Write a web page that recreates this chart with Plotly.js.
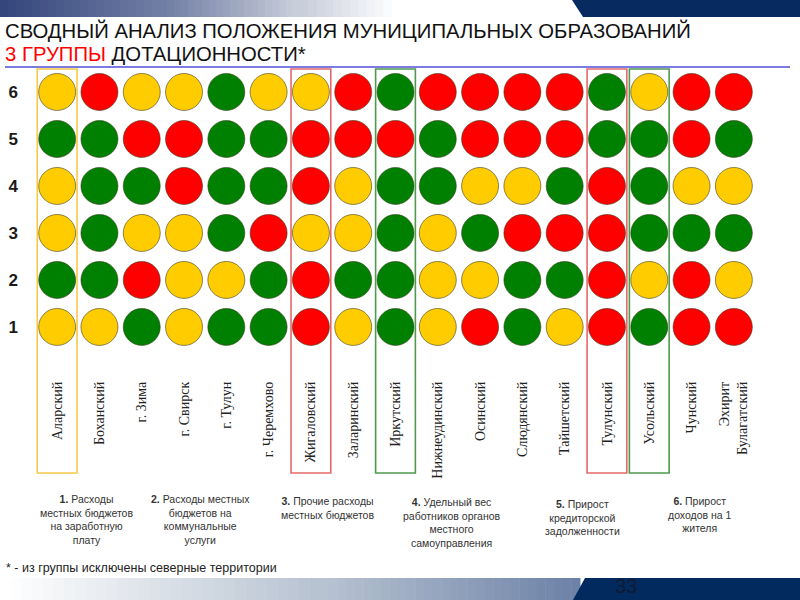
<!DOCTYPE html>
<html><head><meta charset="utf-8">
<script src="https://cdn.plot.ly/plotly-3.0.1.min.js"></script>
<style>html,body{margin:0;padding:0;background:#fff}#chart{width:800px;height:600px}</style>
</head><body><div id="chart"></div>
<script>
// ---- data ----
const categories = ['Аларский','Боханский','г. Зима','г. Свирск','г. Тулун','г. Черемхово','Жигаловский','Заларинский','Иркутский','Нижнеудинский','Осинский','Слюдянский','Тайшетский','Тулунский','Усольский','Чунский','Эхирит<br>Булагатский'];
const rowNumbers = [1,2,3,4,5,6];
// status per municipality: G = green, Y = yellow, R = red
const row1 = ['Y','Y','G','Y','G','G','R','Y','G','Y','R','G','Y','R','G','R','R'];
const row2 = ['G','G','R','Y','Y','G','R','G','G','Y','Y','G','G','R','Y','R','Y'];
const row3 = ['Y','G','Y','Y','G','R','Y','Y','G','Y','G','R','R','R','G','G','G'];
const row4 = ['Y','G','G','R','G','G','R','Y','G','G','Y','Y','G','R','G','Y','Y'];
const row5 = ['G','G','R','R','G','G','R','R','R','G','R','R','R','G','G','R','G'];
const row6 = ['Y','R','Y','Y','G','Y','Y','R','G','R','R','R','R','G','Y','R','R'];
const rows = [row1,row2,row3,row4,row5,row6];
const highlightedCols = ['Аларский','Жигаловский','Иркутский','Тулунский','Усольский'];
const highlightColors = ['#F7C948','#E46A6A','#4E9A4E','#E46A6A','#4E9A4E'];
const titleLine1 = 'СВОДНЫЙ АНАЛИЗ ПОЛОЖЕНИЯ МУНИЦИПАЛЬНЫХ ОБРАЗОВАНИЙ';
const titleLine2 = '<span style="color:#FF0000">3 ГРУППЫ</span> ДОТАЦИОННОСТИ*';
const notes = [
  '<b>1.</b> Расходы<br>местных бюджетов<br>на заработную<br>плату',
  '<b>2.</b> Расходы местных<br>бюджетов на<br>коммунальные<br>услуги',
  '<b>3.</b> Прочие расходы<br>местных бюджетов',
  '<b>4.</b> Удельный вес<br>работников органов<br>местного<br>самоуправления',
  '<b>5.</b> Прирост<br>кредиторской<br>задолженности',
  '<b>6.</b> Прирост<br>доходов на 1<br>жителя'
];
const footnote = '* - из группы исключены северные территории';
const pageNumber = '33';

// ---- styles ----
const statusColors = {G:'#008000', Y:'#FFCC00', R:'#FF0000'};
const W = 800, H = 600, ML = 36, MR = 45, MT = 68, MB = 222;
const PW = W - ML - MR, PH = H - MT - MB;
const px = v => (v - ML) / PW;
const py = v => (H - MB - v) / PH;
const SANS = 'Liberation Sans, Arial, sans-serif';

const xIdx = categories.map((c, i) => i + 1);
const traces = rows.map((r, k) => ({
  type: 'scatter', mode: 'markers',
  x: xIdx, y: r.map(() => rowNumbers[k]),
  marker: {size: 37, color: r.map(s => statusColors[s]),
           line: {color: 'rgba(50,50,20,0.55)', width: 1}},
  hoverinfo: 'skip', showlegend: false
}));

const shapes = [];
// slide decoration: header and footer bands built from thin strips
function hex2rgb(h){return [1,3,5].map(i=>parseInt(h.substr(i,2),16));}
function band(y0, y1, x0, x1, c0, c1, n){
  const a = hex2rgb(c0), b = hex2rgb(c1);
  for (let i = 0; i < n; i++){
    const t = i / (n - 1);
    const c = a.map((v, j) => Math.round(v + (b[j] - v) * t));
    const xa = x0 + (x1 - x0) * i / n, xb = x0 + (x1 - x0) * (i + 1) / n + 0.5;
    shapes.push({type:'rect', xref:'paper', yref:'paper', x0: px(xa), x1: px(xb), y0: py(y1), y1: py(y0),
      fillcolor: 'rgb(' + c.join(',') + ')', line: {width: 0}, layer: 'below'});
  }
}
band(0, 17, 0, 160, '#34467C', '#6F7CA3', 20);
band(0, 17, 160, 300, '#6F7CA3', '#C9CEDB', 20);
band(0, 17, 300, 400, '#C9CEDB', '#FFFFFF', 12);
shapes.push({type:'path', xref:'paper', yref:'paper',
  path: 'M' + px(572) + ',' + py(0) + ' L' + px(800) + ',' + py(0) + ' L' + px(800) + ',' + py(17) + ' L' + px(583) + ',' + py(17) + ' Z',
  fillcolor: '#072B60', line: {width: 0}, layer: 'below'});
band(578, 600, 0, 320, '#FFFFFF', '#B8C3D2', 30);
band(578, 600, 320, 580, '#B8C3D2', '#6C82A6', 30);
shapes.push({type:'path', xref:'paper', yref:'paper',
  path: 'M' + px(585) + ',' + py(578) + ' L' + px(800) + ',' + py(578) + ' L' + px(800) + ',' + py(600) + ' L' + px(573) + ',' + py(600) + ' Z',
  fillcolor: '#022A5E', line: {width: 0}, layer: 'below'});

highlightedCols.forEach((c, i) => {
  const xi = categories.indexOf(c) + 1;
  shapes.push({type: 'rect', xref: 'x', yref: 'paper', x0: xi - 0.47, x1: xi + 0.47,
          y0: py(473), y1: py(69), line: {color: highlightColors[i], width: 1.6},
          fillcolor: 'rgba(0,0,0,0)', layer: 'above'});
});
shapes.push({type: 'line', xref: 'paper', yref: 'paper', x0: px(5), x1: px(790),
             y0: py(67), y1: py(67), line: {color: '#7C7CE0', width: 2}});

const noteX = [86, 200, 327, 452, 582, 700];
const noteTop = [491, 491, 493, 494, 496, 493];
const annotations = notes.map((t, i) => ({
  xref: 'paper', yref: 'paper', x: px(noteX[i]), y: py(noteTop[i]),
  xanchor: 'center', yanchor: 'top', align: 'center', showarrow: false,
  text: t, font: {family: SANS, size: 10.5, color: '#333'}
}));
annotations.push({xref: 'paper', yref: 'paper', x: px(3), y: py(31), xanchor: 'left', yanchor: 'middle',
  showarrow: false, text: titleLine1, font: {family: SANS, size: 20.3, color: '#111'}});
annotations.push({xref: 'paper', yref: 'paper', x: px(3), y: py(54), xanchor: 'left', yanchor: 'middle',
  showarrow: false, text: titleLine2, font: {family: SANS, size: 20.3, color: '#111'}});
annotations.push({xref: 'paper', yref: 'paper', x: px(4), y: py(568), xanchor: 'left', yanchor: 'middle',
  showarrow: false, text: footnote, font: {family: SANS, size: 12.5, color: '#222'}});
annotations.push({xref: 'paper', yref: 'paper', x: px(626), y: py(599), xanchor: 'center', yanchor: 'bottom',
  showarrow: false, text: pageNumber, font: {family: SANS, size: 20, color: '#0d1b33'}});

const layout = {
  width: W, height: H,
  margin: {l: ML, r: MR, t: MT, b: MB, pad: 0},
  paper_bgcolor: '#fff', plot_bgcolor: 'rgba(0,0,0,0)',
  xaxis: {range: [0.5, 17.5], tickvals: xIdx, ticktext: categories, tickangle: -90,
          showgrid: false, zeroline: false, showline: false, ticks: '', fixedrange: true,
          tickfont: {family: 'Liberation Serif, Times New Roman, serif', size: 14, color: '#222'}},
  yaxis: {range: [-0.086, 6.51], tickvals: rowNumbers, ticktext: rowNumbers.map(String),
          showgrid: false, zeroline: false, showline: false, ticks: '', ticklabelstandoff: 17,
          tickfont: {family: SANS, size: 17, color: '#1a1a1a', weight: 'bold'}},
  shapes: shapes,
  annotations: annotations,
  showlegend: false
};
Plotly.newPlot('chart', traces, layout, {displayModeBar: false, staticPlot: true});
</script></body></html>
